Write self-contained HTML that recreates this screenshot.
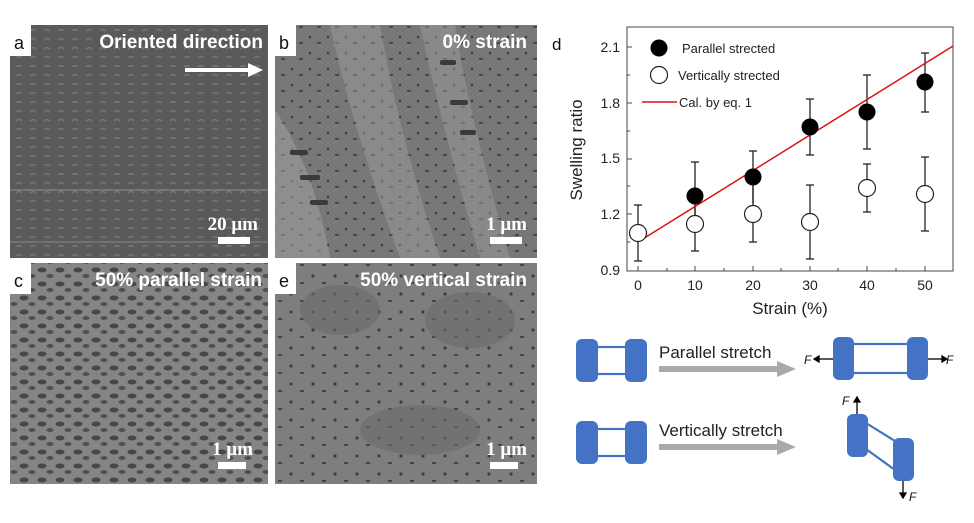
<!DOCTYPE html>
<html><head><meta charset="utf-8"><style>
body{margin:0;background:#fff;width:974px;height:518px;overflow:hidden;font-family:"Liberation Sans",sans-serif}
</style></head><body>
<svg width="974" height="518" viewBox="0 0 974 518" xmlns="http://www.w3.org/2000/svg" font-family="Liberation Sans, sans-serif">
<defs>
<pattern id="pa" width="14" height="9" patternUnits="userSpaceOnUse"><rect width="14" height="9" fill="#5a5a5a"/><path d="M2 4 q3 -3 6 0" stroke="#7a7a7a" stroke-width="1.2" fill="none"/></pattern>
<pattern id="pc" width="18" height="14" patternUnits="userSpaceOnUse"><rect width="18" height="14" fill="#858585"/><ellipse cx="6" cy="4" rx="4.5" ry="2.5" fill="#474747"/><ellipse cx="14" cy="10" rx="3.5" ry="2" fill="#505050"/></pattern>
<pattern id="pe" width="22" height="18" patternUnits="userSpaceOnUse"><rect width="22" height="18" fill="#7e7e7e"/><circle cx="5" cy="6" r="1.6" fill="#3e3e3e"/><rect x="14" y="12" width="4" height="2" fill="#454545"/></pattern>
<pattern id="pb" width="18" height="16" patternUnits="userSpaceOnUse"><rect width="18" height="16" fill="#787878"/><circle cx="4" cy="5" r="1.3" fill="#3e3e3e"/><rect x="11" y="10" width="4" height="1.8" fill="#444"/></pattern>
</defs>
<!-- panel a -->
<rect x="10" y="25" width="258" height="233" fill="url(#pa)"/>
<line x1="10" y1="190" x2="268" y2="190" stroke="#888" stroke-width="1.2"/>
<line x1="10" y1="242" x2="268" y2="242" stroke="#888" stroke-width="1"/>
<rect x="10" y="25" width="21" height="31" fill="#fff"/>
<text x="14" y="49" font-size="18" fill="#111">a</text>
<text x="263" y="48" font-size="19" font-weight="bold" fill="#fff" text-anchor="end">Oriented direction</text>
<line x1="185" y1="70" x2="250" y2="70" stroke="#fff" stroke-width="4"/>
<polygon points="248,63 263,70 248,77" fill="#fff"/>
<text x="258" y="230" font-size="19" font-weight="bold" fill="#fff" text-anchor="end" font-family="Liberation Serif, serif">20 μm</text>
<rect x="218" y="237" width="32" height="7" fill="#fff"/>
<!-- panel b -->
<rect x="275" y="25" width="262" height="233" fill="url(#pb)"/>
<path d="M275 110 Q315 170 330 258 L275 258Z" fill="#a0a0a0" opacity="0.55"/>
<path d="M330 25 Q350 120 400 258 L440 258 Q400 140 380 25Z" fill="#a0a0a0" opacity="0.45"/>
<path d="M420 25 Q440 120 480 258 L510 258 Q470 120 455 25Z" fill="#9e9e9e" opacity="0.45"/>
<g fill="#3a3a3a"><rect x="290" y="150" width="18" height="5" rx="2"/><rect x="300" y="175" width="20" height="5" rx="2"/><rect x="310" y="200" width="18" height="5" rx="2"/><rect x="440" y="60" width="16" height="5" rx="2"/><rect x="450" y="100" width="18" height="5" rx="2"/><rect x="460" y="130" width="16" height="5" rx="2"/></g>
<rect x="275" y="25" width="21" height="31" fill="#fff"/>
<text x="279" y="49" font-size="18" fill="#111">b</text>
<text x="527" y="48" font-size="19" font-weight="bold" fill="#fff" text-anchor="end">0% strain</text>
<text x="527" y="230" font-size="19" font-weight="bold" fill="#fff" text-anchor="end" font-family="Liberation Serif, serif">1 μm</text>
<rect x="490" y="237" width="32" height="7" fill="#fff"/>
<!-- panel c -->
<rect x="10" y="263" width="258" height="221" fill="url(#pc)"/>
<rect x="10" y="263" width="21" height="31" fill="#fff"/>
<text x="14" y="287" font-size="18" fill="#111">c</text>
<text x="262" y="286" font-size="19" font-weight="bold" fill="#fff" text-anchor="end">50% parallel strain</text>
<text x="253" y="455" font-size="19" font-weight="bold" fill="#fff" text-anchor="end" font-family="Liberation Serif, serif">1 μm</text>
<rect x="218" y="462" width="28" height="7" fill="#fff"/>
<!-- panel e -->
<rect x="275" y="263" width="262" height="221" fill="url(#pe)"/>
<g fill="#6a6a6a" opacity="0.6"><ellipse cx="340" cy="310" rx="40" ry="25"/><ellipse cx="470" cy="320" rx="45" ry="28"/><ellipse cx="420" cy="430" rx="60" ry="25"/></g>
<rect x="275" y="263" width="21" height="31" fill="#fff"/>
<text x="279" y="287" font-size="18" fill="#111">e</text>
<text x="527" y="286" font-size="19" font-weight="bold" fill="#fff" text-anchor="end">50% vertical strain</text>
<text x="527" y="455" font-size="19" font-weight="bold" fill="#fff" text-anchor="end" font-family="Liberation Serif, serif">1 μm</text>
<rect x="490" y="462" width="28" height="7" fill="#fff"/>
<!-- chart d -->
<text x="552" y="50" font-size="17" fill="#111">d</text>
<rect x="627" y="27" width="326" height="244" fill="none" stroke="#444" stroke-width="1"/>
<g font-size="14" fill="#222" text-anchor="end">
<text x="620" y="52">2.1</text><text x="620" y="108">1.8</text><text x="620" y="163">1.5</text><text x="620" y="219">1.2</text><text x="620" y="275">0.9</text>
</g>
<g stroke="#444" stroke-width="1">
<line x1="627" y1="47" x2="632" y2="47"/><line x1="627" y1="103" x2="632" y2="103"/><line x1="627" y1="159" x2="632" y2="159"/><line x1="627" y1="214" x2="632" y2="214"/>
<line x1="627" y1="75" x2="630" y2="75"/><line x1="627" y1="131" x2="630" y2="131"/><line x1="627" y1="186" x2="630" y2="186"/><line x1="627" y1="242" x2="630" y2="242"/>
<line x1="638" y1="271" x2="638" y2="266"/><line x1="695" y1="271" x2="695" y2="266"/><line x1="753" y1="271" x2="753" y2="266"/><line x1="810" y1="271" x2="810" y2="266"/><line x1="867" y1="271" x2="867" y2="266"/><line x1="925" y1="271" x2="925" y2="266"/>
<line x1="667" y1="271" x2="667" y2="268"/><line x1="724" y1="271" x2="724" y2="268"/><line x1="781" y1="271" x2="781" y2="268"/><line x1="838" y1="271" x2="838" y2="268"/><line x1="896" y1="271" x2="896" y2="268"/>
</g>
<g font-size="14" fill="#222" text-anchor="middle">
<text x="638" y="290">0</text><text x="695" y="290">10</text><text x="753" y="290">20</text><text x="810" y="290">30</text><text x="867" y="290">40</text><text x="925" y="290">50</text>
</g>
<text x="790" y="314" font-size="17" fill="#222" text-anchor="middle">Strain (%)</text>
<text transform="translate(582,150) rotate(-90)" font-size="17" fill="#222" text-anchor="middle">Swelling ratio</text>
<g stroke="#222" stroke-width="1.3">
<line x1="695" y1="162" x2="695" y2="229"/><line x1="691" y1="162" x2="699" y2="162"/>
<line x1="753" y1="151" x2="753" y2="203"/><line x1="749" y1="151" x2="757" y2="151"/>
<line x1="810" y1="99" x2="810" y2="155"/><line x1="806" y1="99" x2="814" y2="99"/><line x1="806" y1="155" x2="814" y2="155"/>
<line x1="867" y1="75" x2="867" y2="149"/><line x1="863" y1="75" x2="871" y2="75"/><line x1="863" y1="149" x2="871" y2="149"/>
<line x1="925" y1="53" x2="925" y2="112"/><line x1="921" y1="53" x2="929" y2="53"/><line x1="921" y1="112" x2="929" y2="112"/>
<line x1="638" y1="205" x2="638" y2="261"/><line x1="634" y1="205" x2="642" y2="205"/><line x1="634" y1="261" x2="642" y2="261"/>
<line x1="695" y1="196" x2="695" y2="251"/><line x1="691" y1="251" x2="699" y2="251"/>
<line x1="753" y1="186" x2="753" y2="242"/><line x1="749" y1="242" x2="757" y2="242"/>
<line x1="810" y1="185" x2="810" y2="259"/><line x1="806" y1="185" x2="814" y2="185"/><line x1="806" y1="259" x2="814" y2="259"/>
<line x1="867" y1="164" x2="867" y2="212"/><line x1="863" y1="164" x2="871" y2="164"/><line x1="863" y1="212" x2="871" y2="212"/>
<line x1="925" y1="157" x2="925" y2="231"/><line x1="921" y1="157" x2="929" y2="157"/><line x1="921" y1="231" x2="929" y2="231"/>
</g>
<line x1="638" y1="242" x2="953" y2="46" stroke="#e01010" stroke-width="1.5"/>
<g fill="#000">
<circle cx="695" cy="196" r="8.5"/><circle cx="753" cy="177" r="8.5"/><circle cx="810" cy="127" r="8.5"/><circle cx="867" cy="112" r="8.5"/><circle cx="925" cy="82" r="8.5"/>
</g>
<g fill="#fff" stroke="#222" stroke-width="1.2">
<circle cx="638" cy="233" r="8.5"/><circle cx="695" cy="224" r="8.5"/><circle cx="753" cy="214" r="8.5"/><circle cx="810" cy="222" r="8.5"/><circle cx="867" cy="188" r="8.5"/><circle cx="925" cy="194" r="8.5"/>
</g>
<circle cx="659" cy="48" r="8.5" fill="#000"/>
<text x="682" y="53" font-size="13" fill="#222">Parallel strected</text>
<circle cx="659" cy="75" r="8.5" fill="#fff" stroke="#222" stroke-width="1.2"/>
<text x="678" y="80" font-size="13" fill="#222">Vertically strected</text>
<line x1="642" y1="102" x2="677" y2="102" stroke="#e01010" stroke-width="1.5"/>
<text x="679" y="107" font-size="13" fill="#222">Cal. by eq. 1</text>
<g fill="#4472c4" stroke="none">
<rect x="576" y="339" width="22" height="43" rx="6"/><rect x="625" y="339" width="22" height="43" rx="6"/>
<rect x="576" y="421" width="22" height="43" rx="6"/><rect x="625" y="421" width="22" height="43" rx="6"/>
<rect x="833" y="337" width="21" height="43" rx="6"/><rect x="907" y="337" width="21" height="43" rx="6"/>
<rect x="847" y="414" width="21" height="43" rx="6"/><rect x="893" y="438" width="21" height="43" rx="6"/>
</g>
<g stroke="#4472c4" stroke-width="2.2" fill="none">
<rect x="596" y="347" width="31" height="27"/><rect x="596" y="429" width="31" height="27"/>
<rect x="852" y="344" width="57" height="29"/>
<line x1="866" y1="423" x2="895" y2="441"/><line x1="866" y1="449" x2="895" y2="470"/>
</g>
<text x="659" y="358" font-size="17" fill="#222">Parallel stretch</text>
<text x="659" y="436" font-size="17" fill="#222">Vertically stretch</text>
<g fill="#aaa"><rect x="659" y="366" width="120" height="6"/><polygon points="777,361 796,369 777,377"/>
<rect x="659" y="444" width="120" height="6"/><polygon points="777,439 796,447 777,455"/></g>
<g stroke="#000" stroke-width="1.3" fill="#000">
<line x1="818" y1="359" x2="833" y2="359"/><polygon points="814,359 819,356 819,362"/>
<line x1="928" y1="359" x2="943" y2="359"/><polygon points="947,359 942,356 942,362"/>
<line x1="857" y1="401" x2="857" y2="414"/><polygon points="857,397 854,402 860,402"/>
<line x1="903" y1="481" x2="903" y2="494"/><polygon points="903,498 900,493 906,493"/>
</g>
<g font-size="12" font-style="italic" fill="#111">
<text x="804" y="364">F</text><text x="946" y="364">F</text><text x="842" y="405">F</text><text x="909" y="501">F</text>
</g>
</svg>
</body></html>
